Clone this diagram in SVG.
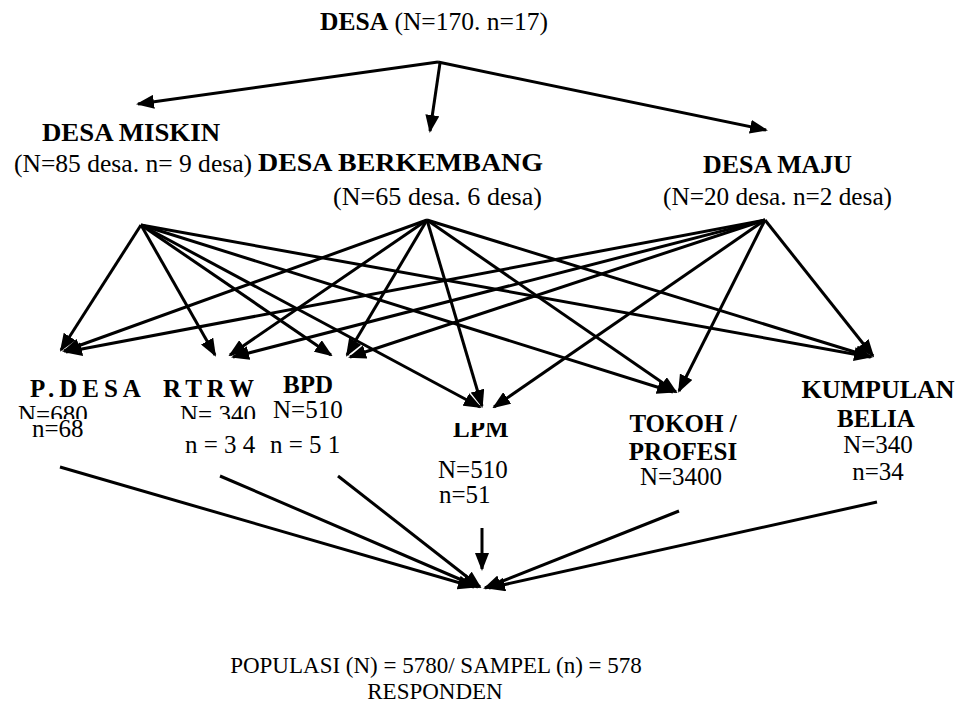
<svg xmlns="http://www.w3.org/2000/svg" width="960" height="706" viewBox="0 0 960 706">
  <style>
    text { font-family: "Liberation Serif", "Times New Roman", serif; fill: #000; font-size: 25px; }
    .b { font-weight: bold; }
    .sp { letter-spacing: 5px; }
    .lg { font-size: 26px; }
    .sm { font-size: 23px; }
    .c { text-anchor: middle; }
    .conn path { fill: none; stroke: #000; stroke-width: 3; marker-end: url(#ah); }
  </style>
  <defs>
    <marker id="ah" markerWidth="18" markerHeight="14" refX="16" refY="7" orient="auto" markerUnits="userSpaceOnUse">
      <path d="M0,0 L18,7 L0,14 z" fill="#000"/>
    </marker>
    <clipPath id="cut-upper"><rect x="0" y="380" width="300" height="39"/></clipPath>
    <clipPath id="cut-lpm"><rect x="440" y="423" width="90" height="30"/></clipPath>
  </defs>
  <rect width="960" height="706" fill="#fff"/>

  <!-- connectors -->
  <g id="connectors" class="conn">
    <!-- root to the three village types -->
    <path d="M438,62 L138,104"/>
    <path d="M440,63 L430,131"/>
    <path d="M438,62 L766,130"/>
    <!-- desa miskin to every group -->
    <path d="M141,225 L61,350"/>
    <path d="M141,225 L215,355"/>
    <path d="M141,225 L331,355"/>
    <path d="M141,225 L480,407"/>
    <path d="M141,225 L673,392"/>
    <path d="M141,225 L870,357"/>
    <!-- desa berkembang to every group -->
    <path d="M427,220 L64,351"/>
    <path d="M427,220 L230,355"/>
    <path d="M427,220 L347,355"/>
    <path d="M427,220 L482,406"/>
    <path d="M427,220 L676,392"/>
    <path d="M427,220 L871,357"/>
    <!-- desa maju to every group -->
    <path d="M765,220 L66,352"/>
    <path d="M765,220 L233,357"/>
    <path d="M765,220 L350,357"/>
    <path d="M765,220 L494,407"/>
    <path d="M765,220 L679,391"/>
    <path d="M765,220 L873,356"/>
    <!-- groups to the respondent total -->
    <path d="M60,467 L474,587"/>
    <path d="M220,476 L478,587"/>
    <path d="M338,476 L480,587"/>
    <path d="M482,528 L482,569"/>
    <path d="M679,511 L485,588"/>
    <path d="M877,502 L489,588"/>
  </g>

  <g id="desa">
    <text x="320" y="30" textLength="228" lengthAdjust="spacingAndGlyphs"><tspan class="b">DESA</tspan> (N=170. n=17)</text>
  </g>
  <g id="desa-miskin">
    <text class="b lg" x="42" y="141" textLength="178" lengthAdjust="spacingAndGlyphs">DESA MISKIN</text>
    <text class="lg" x="14" y="172" textLength="238" lengthAdjust="spacingAndGlyphs">(N=85 desa. n= 9 desa)</text>
  </g>
  <g id="desa-berkembang">
    <text class="b lg" x="258" y="171" textLength="285" lengthAdjust="spacingAndGlyphs">DESA BERKEMBANG</text>
    <text class="lg" x="333" y="205" textLength="209" lengthAdjust="spacingAndGlyphs">(N=65 desa. 6 desa)</text>
  </g>
  <g id="desa-maju">
    <text class="b" x="703" y="173" textLength="149" lengthAdjust="spacingAndGlyphs">DESA MAJU</text>
    <text x="663" y="205" textLength="229" lengthAdjust="spacingAndGlyphs">(N=20 desa. n=2 desa)</text>
  </g>

  <g id="p-desa">
    <text class="b sp" x="30" y="397">P.DESA</text>
    <text x="18" y="423" clip-path="url(#cut-upper)">N=680</text>
    <text x="32" y="437">n=68</text>
  </g>
  <g id="rtrw">
    <text class="b sp" x="163" y="397">RTRW</text>
    <text x="180" y="423" clip-path="url(#cut-upper)">N= 340</text>
    <text x="185" y="453">n = 3 4</text>
  </g>
  <g id="bpd">
    <text class="b" x="283" y="393">BPD</text>
    <text x="273" y="418">N=510</text>
    <text x="270" y="453">n = 5 1</text>
  </g>
  <g id="lpm">
    <text class="b" x="453" y="437" clip-path="url(#cut-lpm)">LPM</text>
    <text x="438" y="478">N=510</text>
    <text x="439" y="503">n=51</text>
  </g>
  <g id="tokoh">
    <text class="b c" x="683" y="432">TOKOH /</text>
    <text class="b c" x="683" y="460">PROFESI</text>
    <text class="c" x="681" y="485">N=3400</text>
  </g>
  <g id="kumpulan">
    <text class="b c lg" x="878" y="398">KUMPULAN</text>
    <text class="b c" x="876" y="427">BELIA</text>
    <text class="c" x="878" y="453">N=340</text>
    <text class="c" x="878" y="480">n=34</text>
  </g>

  <g id="total">
    <text class="sm c" x="436" y="673">POPULASI (N) = 5780/ SAMPEL (n) = 578</text>
    <text class="sm c" x="435" y="699">RESPONDEN</text>
  </g>
</svg>
